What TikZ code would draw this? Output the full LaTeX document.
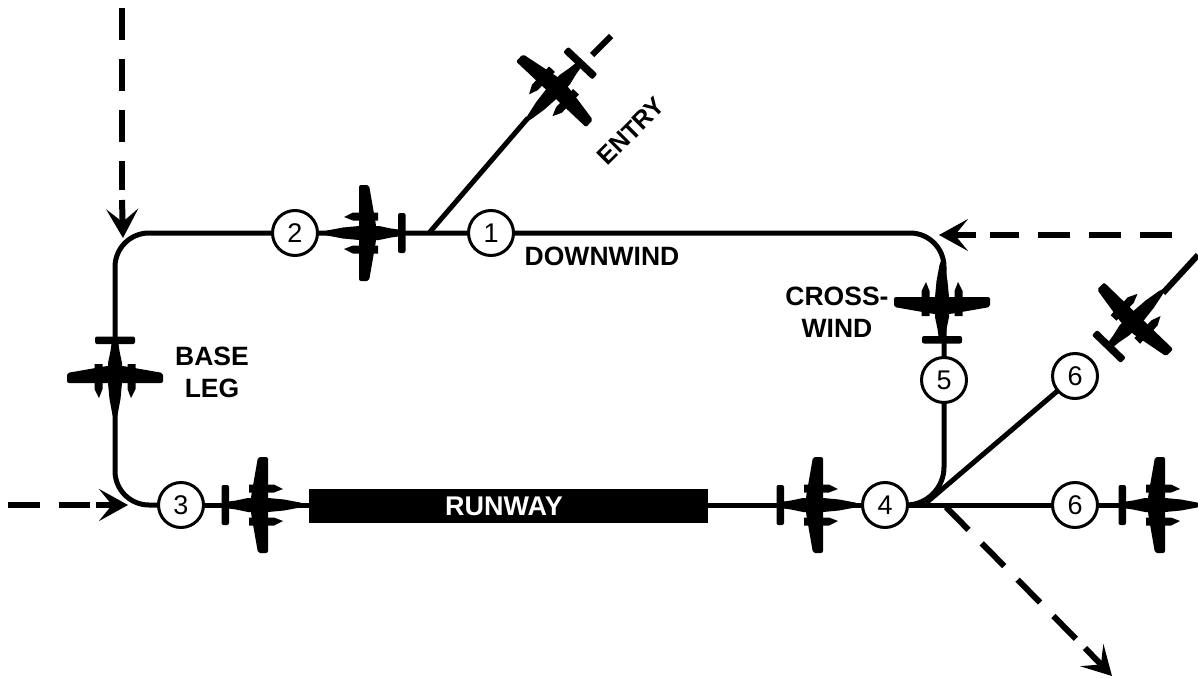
\documentclass[tikz,border=0pt]{standalone}
\usepackage{fontspec}
\setmainfont{Liberation Sans}
\usetikzlibrary{arrows.meta}
\tikzset{
  every picture/.style={x=1pt,y=-1pt},
  track/.style={line width=5pt},
  dashedtrack/.style={line width=6pt,dash pattern=on 32pt off 19pt},
  barb/.style={line width=6pt,-{Stealth[length=29pt,width=32pt,inset=13pt]}},
  stop/.style={circle,draw,line width=3pt,fill=white,minimum size=45pt,inner sep=0pt,font=\fontsize{27}{27}\selectfont},
  lab/.style={font=\bfseries\fontsize{26.5}{32}\selectfont,align=center,inner sep=0pt},
  plane/.pic={
    \fill[black,rounded corners=2pt]
      (8,-48) -- (-2,-48) -- (-9,-8) -- (-9,8) -- (-2,48) -- (8,48) -- cycle;
    \fill[black] (47,0) -- (40,-2.5) -- (24,-5.5) -- (8,-7) -- (-12,-7) -- (-24,-4.5) -- (-35,-3) -- (-35,3) -- (-24,4.5) -- (-12,7) -- (8,7) -- (24,5.5) -- (40,2.5) -- cycle;
    \fill[black,rounded corners=2pt] (-31,-20) -- (-38.5,-20) -- (-38.5,20) -- (-31,20) -- cycle;
    \fill[black] (23,-16) -- (14,-20.5) -- (-11,-20.5) -- (-11,-12.5) -- (14,-12.5) -- cycle;
    \fill[black] (23,16) -- (14,20.5) -- (-11,20.5) -- (-11,12.5) -- (14,12.5) -- cycle;
  }
}
\begin{document}
\begin{tikzpicture}
\useasboundingbox (0,0) rectangle (1198,677);
% free ends
\coordinate (topleft) at (122,8);
\coordinate (topleftend) at (123,238);
\coordinate (leftstart) at (8,505);
\coordinate (leftend) at (128,505);
\coordinate (rightstart) at (1172,235);
\coordinate (rightend) at (939,235);
\coordinate (exitend) at (1112,676);
\coordinate (exitstart) at (946,507);
\coordinate (entryfoot) at (429,233);
\coordinate (entrytop) at (528,118);
\coordinate (entryd1) at (592,55);
\coordinate (entryd2) at (611,36);
\coordinate (brk) at (926,503);
\coordinate (sixd1) at (1163,293);
\coordinate (sixd2) at (1198,255);
\coordinate (t6) at (1120,505);
% track lines
\draw[track,rounded corners=34pt] (181,505) -- (115,505) -- (115,233) -- (944,233) -- (944,380);
\draw[track,rounded corners=38pt] (944,380) -- (944,505) -- (885,505);
\draw[track] (181,505) -- (309,505);
\draw[track] (708,505) -- (885,505);
\draw[track] (885,505) -- (1075,505) -- (t6);
\draw[track] (brk) -- (1075,376);
\draw[track] (entryfoot) -- (entrytop);
\draw[dashedtrack,dash pattern=] (entryd1) -- (entryd2);
\draw[dashedtrack,dash pattern=] (sixd1) -- (sixd2);
% dashed arrows
\draw[dashedtrack] (topleft) -- (122,190);
\draw[barb] (122,200) -- (topleftend);
\draw[dashedtrack] (leftstart) -- (90,505);
\draw[barb] (96,505) -- (leftend);
\draw[dashedtrack] (rightstart) -- (990,235);
\draw[barb] (976,235) -- (rightend);
\draw[dashedtrack] (exitstart) -- (1078,641);
\draw[barb] (1085,648) -- (exitend);
% runway
\node[fill=black,text=white,minimum width=399pt,minimum height=34pt,inner sep=0pt,font=\bfseries\fontsize{27}{32}\selectfont] (runway) at (508.5,506) {\hspace*{-9pt}RUNWAY};
% planes
\pic at (367,233) [rotate=180] {plane};
\pic at (556.5,88.5) [rotate=226.8] {plane};
\pic at (115,375) [rotate=270] {plane};
\pic at (942,305) [rotate=90] {plane};
\pic at (1133,321.5) [rotate=46] {plane};
\pic at (260,505) {plane};
\pic at (815,505) {plane};
\pic at (1157,505) {plane};
% stops
\node[stop] (s1) at (491,233) {1};
\node[stop] (s2) at (295,233) {2};
\node[stop] (s3) at (181,505) {3};
\node[stop] (s4) at (885,505) {4};
\node[stop] (s5) at (944,380) {5};
\node[stop] (s6a) at (1075,376) {6};
\node[stop] (s6b) at (1075,505) {6};
% labels
\node[lab] (downwind) at (602,256) {DOWNWIND};
\node[lab] (cross) at (837,312) {CROSS-\\WIND};
\node[lab] (base) at (212,372) {BASE\\LEG};
\node[lab,rotate=45,font=\bfseries\fontsize{25}{30}\selectfont] (entry) at (631,131) {ENTRY};
\end{tikzpicture}
\end{document}
